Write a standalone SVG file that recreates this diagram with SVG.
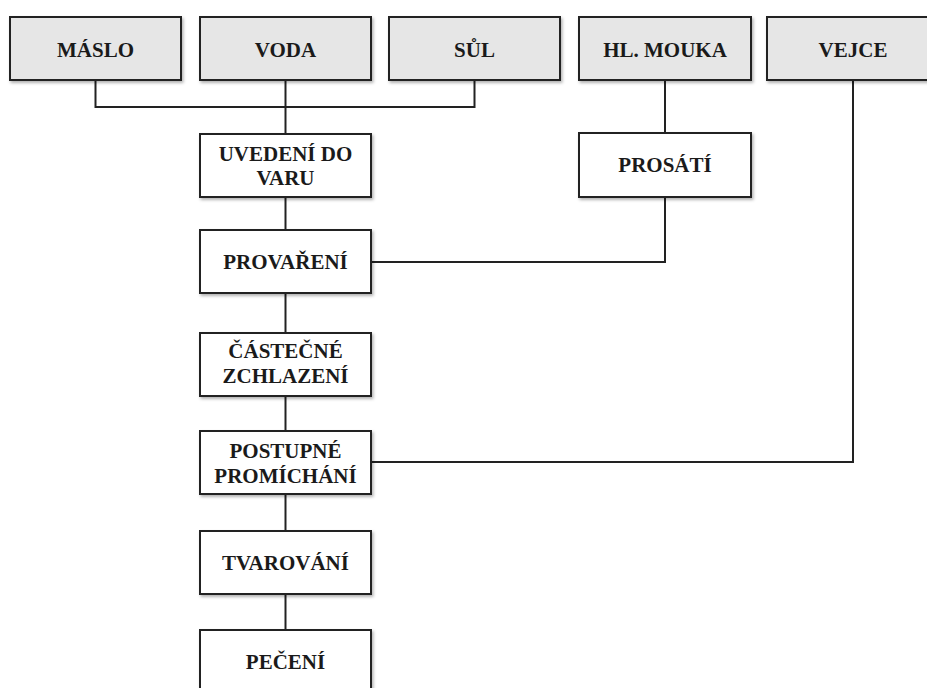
<svg xmlns="http://www.w3.org/2000/svg" width="927" height="688" viewBox="0 0 927 688">
  <style>
    .box { stroke: #222; stroke-width: 2; filter: url(#shadow); }
    .input { fill: #e6e6e6; }
    .step { fill: #ffffff; }
    .label { font-family: "Liberation Serif", "Times New Roman", serif; font-weight: bold; font-size: 21px; fill: #1a1a1a; text-anchor: middle; }
    .wire { fill: none; stroke: #222; stroke-width: 2; }
  </style>
  <defs>
    <filter id="shadow" x="-10%" y="-10%" width="130%" height="140%">
      <feDropShadow dx="1.5" dy="2" stdDeviation="1.5" flood-color="#000" flood-opacity="0.3"/>
    </filter>
  </defs>
  <rect width="927" height="688" fill="#ffffff"/>

  <!-- connectors -->
  <g id="connectors">
    <path class="wire" d="M95.5 80 V107 H474.5 V80"/>
    <path class="wire" d="M285.5 80 V134"/>
    <path class="wire" d="M285.5 197 V230"/>
    <path class="wire" d="M665 80 V133"/>
    <path class="wire" d="M665 197 V262 H371"/>
    <path class="wire" d="M285.5 293 V333"/>
    <path class="wire" d="M285.5 396 V431"/>
    <path class="wire" d="M853 80 V462 H371"/>
    <path class="wire" d="M285.5 494 V531"/>
    <path class="wire" d="M285.5 594 V630"/>
  </g>

  <!-- ingredients -->
  <g id="maslo">
    <rect class="box input" x="10" y="17" width="171" height="63"/>
    <text class="label" x="95.5" y="57">MÁSLO</text>
  </g>
  <g id="voda">
    <rect class="box input" x="200" y="17" width="171" height="63"/>
    <text class="label" x="285.5" y="57">VODA</text>
  </g>
  <g id="sul">
    <rect class="box input" x="389" y="17" width="171" height="63"/>
    <text class="label" x="474.5" y="57">SŮL</text>
  </g>
  <g id="hl-mouka">
    <rect class="box input" x="579" y="17" width="172" height="63"/>
    <text class="label" x="665" y="57">HL. MOUKA</text>
  </g>
  <g id="vejce">
    <rect class="box input" x="767" y="17" width="172" height="63"/>
    <text class="label" x="853" y="57">VEJCE</text>
  </g>

  <!-- process steps -->
  <g id="uvedeni-do-varu">
    <rect class="box step" x="200" y="134" width="171" height="63"/>
    <text class="label" x="285.5" y="161">UVEDENÍ DO</text>
    <text class="label" x="285.5" y="185">VARU</text>
  </g>
  <g id="prosati">
    <rect class="box step" x="579" y="133" width="172" height="64"/>
    <text class="label" x="665" y="172">PROSÁTÍ</text>
  </g>
  <g id="provareni">
    <rect class="box step" x="200" y="230" width="171" height="63"/>
    <text class="label" x="285.5" y="269">PROVAŘENÍ</text>
  </g>
  <g id="castecne-zchlazeni">
    <rect class="box step" x="200" y="333" width="171" height="63"/>
    <text class="label" x="285.5" y="358">ČÁSTEČNÉ</text>
    <text class="label" x="285.5" y="383">ZCHLAZENÍ</text>
  </g>
  <g id="postupne-promichani">
    <rect class="box step" x="200" y="431" width="171" height="63"/>
    <text class="label" x="285.5" y="458">POSTUPNÉ</text>
    <text class="label" x="285.5" y="483">PROMÍCHÁNÍ</text>
  </g>
  <g id="tvarovani">
    <rect class="box step" x="200" y="531" width="171" height="63"/>
    <text class="label" x="285.5" y="570">TVAROVÁNÍ</text>
  </g>
  <g id="peceni">
    <rect class="box step" x="200" y="630" width="171" height="63"/>
    <text class="label" x="285.5" y="669">PEČENÍ</text>
  </g>
</svg>
